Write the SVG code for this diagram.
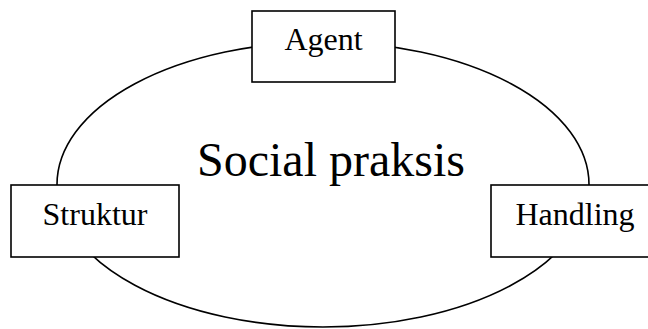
<svg xmlns="http://www.w3.org/2000/svg" width="648" height="329" viewBox="0 0 648 329">
<style>
.box{fill:#fff;stroke:#000;stroke-width:1.6}
.lbl{font-family:"Liberation Serif","Times New Roman",serif;font-size:32px;fill:#000;text-anchor:middle}
.big{font-family:"Liberation Serif","Times New Roman",serif;font-size:48px;fill:#000;text-anchor:middle}
</style>
<rect width="648" height="329" fill="#fff"/>
<g id="connectors">
<ellipse cx="323" cy="184.5" rx="266" ry="142.5" fill="none" stroke="#000" stroke-width="1.6"/>
</g>
<g id="social-praksis">
<text class="big" x="331" y="176">Social praksis</text>
</g>
<g id="agent">
<rect class="box" x="252" y="11" width="143" height="71"/>
<text class="lbl" x="323.5" y="50">Agent</text>
</g>
<g id="struktur">
<rect class="box" x="11" y="185" width="168" height="72"/>
<text class="lbl" x="95" y="225">Struktur</text>
</g>
<g id="handling">
<rect class="box" x="491" y="185" width="168" height="72"/>
<text class="lbl" x="575" y="225">Handling</text>
</g>
</svg>
